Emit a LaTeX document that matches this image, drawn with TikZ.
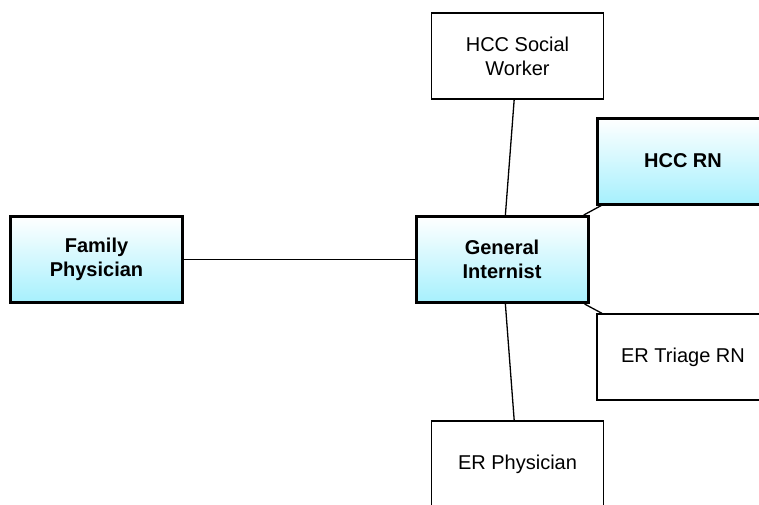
\documentclass[tikz,border=0pt]{standalone}
\usepackage{fontspec}
\setmainfont{Liberation Sans}
\usepackage{tikz}
\definecolor{boxcyan}{RGB}{166,240,253}

\begin{document}
\begin{tikzpicture}[x=1pt,y=-1pt,
  font=\fontsize{20}{24}\selectfont,
  role/.style={draw=black,line width=1.2pt,fill=white,align=center,
    minimum width=172pt,minimum height=86pt,inner sep=0pt},
  lead/.style={role,line width=3pt,top color=white,bottom color=boxcyan,
    font=\fontsize{20}{24}\selectfont\bfseries},
  link/.style={line width=1.3pt,black},
]

\useasboundingbox (0,0) rectangle (759,504);
\clip (0,0) rectangle (759,504);

% ------------------------------------------------------------------
% team members
% ------------------------------------------------------------------
\node[lead] (fam) at (96.5,259.5) {Family\\Physician};
\node[lead] (gen) at (502,259.5)  {General\\Internist};
\node[role] (sw)  at (517.5,56)   {HCC Social\\Worker};
\node[lead] (rn)  at (683,161)    {HCC RN};
\node[role] (tri) at (683,357)    {ER Triage RN};
\node[role] (erp) at (517.5,464)  {ER Physician};

% ------------------------------------------------------------------
% links to the general internist
% ------------------------------------------------------------------
\draw[link] (fam) -- (gen);
\draw[link] (gen) -- (sw);
\draw[link] (gen) -- (rn);
\draw[link] (gen) -- (tri);
\draw[link] (gen) -- (erp);

\end{tikzpicture}
\end{document}
